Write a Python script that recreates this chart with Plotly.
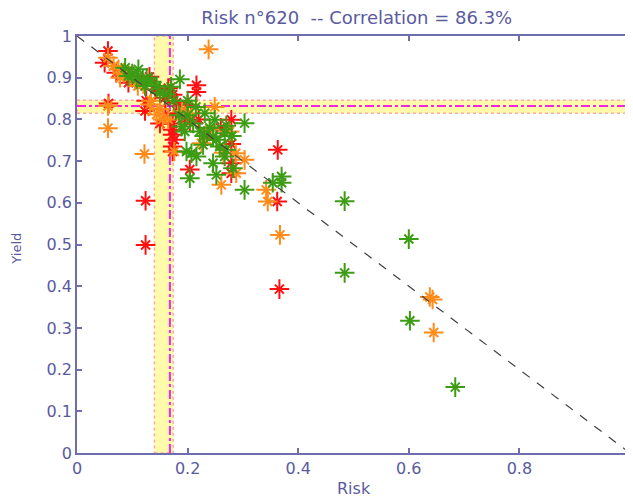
import plotly.graph_objects as go

# ---- data ----
red_risk = [0.056, 0.050, 0.071, 0.093, 0.131, 0.141, 0.159, 0.123, 0.125, 0.057,
            0.216, 0.216, 0.173, 0.165, 0.204, 0.173, 0.173, 0.173, 0.176, 0.173,
            0.173, 0.185, 0.195, 0.160, 0.279, 0.279, 0.279, 0.279, 0.204, 0.363,
            0.362, 0.124, 0.124, 0.366, 0.235, 0.260, 0.150, 0.200, 0.100, 0.220, 0.180]
red_yield = [0.964, 0.936, 0.912, 0.888, 0.902, 0.872, 0.852, 0.820, 0.845, 0.838,
             0.882, 0.866, 0.859, 0.875, 0.795, 0.790, 0.775, 0.763, 0.751, 0.735,
             0.723, 0.815, 0.805, 0.812, 0.799, 0.741, 0.695, 0.671, 0.680, 0.727,
             0.603, 0.605, 0.499, 0.393, 0.760, 0.780, 0.790, 0.835, 0.905, 0.800, 0.840]

orange_risk = [0.056, 0.066, 0.075, 0.078, 0.085, 0.095, 0.105, 0.120, 0.132, 0.144,
               0.134, 0.150, 0.056, 0.056, 0.122, 0.176, 0.249, 0.238, 0.276, 0.225,
               0.303, 0.288, 0.287, 0.261, 0.342, 0.345, 0.367, 0.643, 0.638, 0.645,
               0.165, 0.190, 0.200, 0.155, 0.240, 0.265, 0.110]
orange_yield = [0.948, 0.928, 0.920, 0.900, 0.912, 0.905, 0.895, 0.885, 0.836, 0.812,
                0.845, 0.825, 0.832, 0.779, 0.717, 0.723, 0.830, 0.968, 0.771, 0.743,
                0.703, 0.671, 0.719, 0.643, 0.631, 0.603, 0.523, 0.368, 0.374, 0.289,
                0.800, 0.820, 0.815, 0.800, 0.775, 0.720, 0.880]

green_risk = [0.087, 0.093, 0.111, 0.108, 0.126, 0.123, 0.144, 0.150, 0.186, 0.170,
              0.119, 0.135, 0.100, 0.160, 0.175, 0.231, 0.249, 0.303, 0.189, 0.195,
              0.222, 0.252, 0.246, 0.270, 0.267, 0.207, 0.198, 0.216, 0.246, 0.252,
              0.204, 0.282, 0.303, 0.370, 0.354, 0.370, 0.484, 0.600, 0.484, 0.602,
              0.684, 0.267, 0.258, 0.228, 0.210, 0.200, 0.185, 0.240, 0.230, 0.280,
              0.270, 0.215, 0.200]
green_yield = [0.924, 0.904, 0.920, 0.896, 0.900, 0.880, 0.880, 0.864, 0.896, 0.878,
               0.895, 0.890, 0.910, 0.860, 0.845, 0.815, 0.799, 0.791, 0.783, 0.771,
               0.771, 0.751, 0.759, 0.727, 0.711, 0.719, 0.723, 0.711, 0.695, 0.667,
               0.659, 0.683, 0.631, 0.663, 0.648, 0.648, 0.604, 0.513, 0.432, 0.317,
               0.158, 0.767, 0.735, 0.739, 0.790, 0.810, 0.810, 0.780, 0.760, 0.760,
               0.785, 0.830, 0.845]

diag_x = [0, 1]
diag_y = [1, 0]

risk_band = [0.140, 0.174]
risk_mark = 0.168
yield_band = [0.815, 0.846]
yield_mark = 0.832

x_ticks = [0, 0.2, 0.4, 0.6, 0.8, 1]
x_ticklabels = ["0", "0.2", "0.4", "0.6", "0.8", "1"]
y_ticks = [0, 0.1, 0.2, 0.3, 0.4, 0.5, 0.6, 0.7, 0.8, 0.9, 1]
y_ticklabels = ["0", "0.1", "0.2", "0.3", "0.4", "0.5", "0.6", "0.7", "0.8", "0.9", "1"]

title_text = "Risk n°620\u00a0\u00a0-- Correlation = 86.3%"
x_title = "Risk"
y_title = "Yield"

# ---- styling ----
AX = "#6E6EAE"
TXT = "#5A5A9E"
FONT = "DejaVu Sans, Liberation Sans, sans-serif"

fig = go.Figure()

def star(x, y, color):
    # MATLAB-style '*': long '+' arms plus shorter diagonal arms
    fig.add_trace(go.Scatter(
        x=x, y=y, mode="markers",
        marker=dict(symbol="cross-thin-open", size=14, color=color,
                    line=dict(width=2, color=color)),
        hoverinfo="x+y", showlegend=False))
    fig.add_trace(go.Scatter(
        x=x, y=y, mode="markers",
        marker=dict(symbol="x-thin-open", size=9, color=color,
                    line=dict(width=2, color=color)),
        hoverinfo="skip", showlegend=False))

star(red_risk, red_yield, "#FF1010")
star(orange_risk, orange_yield, "#FF8C1A")
star(green_risk, green_yield, "#3C9C14")

fig.add_trace(go.Scatter(x=diag_x, y=diag_y, mode="lines",
                         line=dict(color="#404040", width=1.2, dash="dash"),
                         showlegend=False, hoverinfo="skip"))

# bands
fig.add_shape(type="rect", xref="x", yref="y", x0=risk_band[0], x1=risk_band[1],
              y0=0, y1=1, fillcolor="#FFFBAA", line=dict(color="#FFA8A8", width=1.5, dash="dot"),
              layer="below")
fig.add_shape(type="rect", xref="x", yref="y", x0=0, x1=1,
              y0=yield_band[0], y1=yield_band[1], fillcolor="#FFFBAA",
              line=dict(color="#FFA8A8", width=1.5, dash="dot"), layer="below")
fig.add_shape(type="line", xref="x", yref="y", x0=risk_mark, x1=risk_mark, y0=0, y1=1,
              line=dict(color="#F524E0", width=2, dash="dashdot"), layer="below")
fig.add_shape(type="line", xref="x", yref="y", x0=0, x1=1, y0=yield_mark, y1=yield_mark,
              line=dict(color="#F524E0", width=2, dash="dashdot"), layer="below")

axis_common = dict(range=[0, 1], showgrid=False, zeroline=False, showline=True,
                   linecolor=AX, linewidth=1.5, mirror="ticks", ticks="inside",
                   ticklen=5, tickwidth=1.5, tickcolor=AX, automargin=False,
                   ticklabeloverflow="allow",
                   tickfont=dict(family=FONT, size=16, color=TXT))

fig.update_xaxes(**axis_common, tickvals=x_ticks, ticktext=x_ticklabels)
fig.update_yaxes(**axis_common, tickvals=y_ticks, ticktext=y_ticklabels)

fig.add_annotation(text=x_title, xref="paper", yref="paper", x=0.5, y=0,
                   yshift=-35, xanchor="center", yanchor="middle", showarrow=False,
                   font=dict(family=FONT, size=16, color=TXT))
fig.add_annotation(text=y_title, xref="paper", yref="paper", x=0, y=0.49,
                   xshift=-60, xanchor="center", yanchor="middle", showarrow=False,
                   textangle=-90, font=dict(family=FONT, size=13, color=TXT))

# the page body adds an 8px offset, so the figure is 8px smaller and margins compensate
fig.update_layout(
    width=625, height=490,
    margin=dict(l=69, r=3, t=28, b=45),
    paper_bgcolor="white", plot_bgcolor="white",
    title=dict(text=title_text, x=0.558, xanchor="center", y=0.98, yanchor="middle",
               font=dict(family=FONT, size=18, color=TXT)),
    showlegend=False,
)

fig.write_html("out.html")
